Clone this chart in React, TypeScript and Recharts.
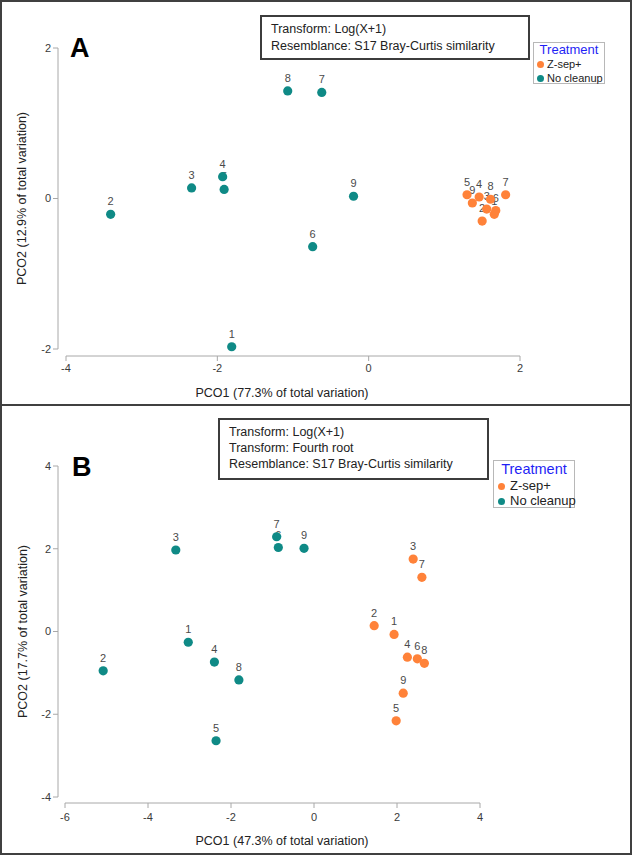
import React from 'react';
import { ScatterChart, Scatter, XAxis, YAxis } from 'recharts';

const FONT = '"Liberation Sans", Arial, Helvetica, sans-serif';
const TEAL = '#0F8A86';
const ORANGE = '#FF8239';
const AXIS_GREY = '#A8A8A8';
const TICK_TEXT = '#3A3A3A';
const LABEL_TEXT = '#4A4A4A';

const sampleIds = ['1', '2', '3', '4', '5', '6', '7', '8', '9'];
const groupNames = ['Z-sep+', 'No cleanup'];

// Panel A: Log(X+1), S17 Bray-Curtis
const aZsepPco1 = [1.66, 1.5, 1.56, 1.46, 1.3, 1.68, 1.81, 1.61, 1.37];
const aZsepPco2 = [-0.21, -0.3, -0.14, 0.02, 0.05, -0.16, 0.05, -0.01, -0.06];
const aNonePco1 = [-1.81, -3.41, -2.34, -1.93, -1.91, -0.74, -0.62, -1.07, -0.2];
const aNonePco2 = [-1.97, -0.21, 0.14, 0.29, 0.12, -0.64, 1.41, 1.43, 0.03];
const aXTicks = [-4, -2, 0, 2];
const aYTicks = [-2, 0, 2];
const aInfo = ['Transform: Log(X+1)', 'Resemblance: S17 Bray-Curtis similarity'];

// Panel B: Log(X+1) then fourth root, S17 Bray-Curtis
const bZsepPco1 = [1.93, 1.45, 2.39, 2.25, 1.98, 2.49, 2.6, 2.66, 2.15];
const bZsepPco2 = [-0.07, 0.14, 1.75, -0.62, -2.16, -0.66, 1.31, -0.77, -1.49];
const bNonePco1 = [-3.03, -5.08, -3.33, -2.4, -2.36, -0.86, -0.9, -1.81, -0.24];
const bNonePco2 = [-0.26, -0.95, 1.97, -0.74, -2.64, 2.03, 2.29, -1.17, 2.01];
const bXTicks = [-6, -4, -2, 0, 2, 4];
const bYTicks = [-4, -2, 0, 2, 4];
const bInfo = ['Transform: Log(X+1)', 'Transform: Fourth root', 'Resemblance: S17 Bray-Curtis similarity'];

type Pt = { x: number; y: number; id: string };
const toPoints = (xs: number[], ys: number[]): Pt[] =>
  xs.map((x, i) => ({ x, y: ys[i], id: sampleIds[i] }));

const SampleId = (props: any) => (
  <text
    x={props.cx}
    y={props.cy - 9}
    textAnchor="middle"
    fontSize={11}
    fontFamily={FONT}
    fill={LABEL_TEXT}
  >
    {props.payload.id}
  </text>
);

const dotShape = (color: string) => (props: any) => (
  <circle cx={props.cx} cy={props.cy} r={4.6} fill={color} />
);

type PanelProps = {
  top: number;
  height: number;
  marginTop: number;
  marginRight: number;
  xAxisHeight: number;
  padLeft: number;
  padBottom: number;
  xDomain: [number, number];
  yDomain: [number, number];
  xTicks: number[];
  yTicks: number[];
  xTickGap: number;
  zsep: Pt[];
  none: Pt[];
  xTitle: string;
  yTitle: string;
  xTitleCenter: number;
  xTitleDrop: number;
  yTitleX: number;
  tickFont: number;
};

function OrdinationPanel(p: PanelProps) {
  const plotHeight = p.height - p.marginTop - p.xAxisHeight;
  const tickStyle = { fill: TICK_TEXT, fontSize: p.tickFont, fontFamily: FONT };
  return (
    <div style={{ position: 'absolute', left: 0, top: p.top }}>
      <ScatterChart
        width={632}
        height={p.height}
        margin={{ top: p.marginTop, right: p.marginRight, bottom: 0, left: 18 }}
      >
        <XAxis
          type="number"
          dataKey="x"
          domain={p.xDomain}
          ticks={p.xTicks}
          padding={{ left: p.padLeft, right: 0 }}
          height={p.xAxisHeight}
          axisLine={{ stroke: AXIS_GREY, strokeDasharray: `0 ${p.padLeft} 4000` }}
          tickLine={{ stroke: AXIS_GREY }}
          tickSize={5}
          tickMargin={p.xTickGap}
          tick={tickStyle}
          label={(lp: any) => {
            const vb = lp.viewBox || {};
            return (
              <text
                x={p.xTitleCenter}
                y={vb.y + p.xTitleDrop}
                textAnchor="middle"
                fontSize={12.5}
                fontFamily={FONT}
                fill="#222"
              >
                {p.xTitle}
              </text>
            );
          }}
        />
        <YAxis
          type="number"
          dataKey="y"
          domain={p.yDomain}
          ticks={p.yTicks}
          width={40}
          padding={{ top: 0, bottom: p.padBottom }}
          axisLine={{ stroke: AXIS_GREY, strokeDasharray: `${plotHeight - p.padBottom} 4000` }}
          tickLine={{ stroke: AXIS_GREY }}
          tickSize={5}
          tickMargin={2}
          tick={tickStyle}
          label={(lp: any) => {
            const vb = lp.viewBox || {};
            const cy = vb.y + (vb.height - p.padBottom) / 2;
            return (
              <text
                x={p.yTitleX}
                y={cy}
                transform={`rotate(-90, ${p.yTitleX}, ${cy})`}
                textAnchor="middle"
                dominantBaseline="central"
                fontSize={12.5}
                fontFamily={FONT}
                fill="#222"
              >
                {p.yTitle}
              </text>
            );
          }}
        />
        <Scatter name="ids-none" data={p.none} shape={SampleId} isAnimationActive={false} />
        <Scatter name="ids-zsep" data={p.zsep} shape={SampleId} isAnimationActive={false} />
        <Scatter name={groupNames[1]} data={p.none} shape={dotShape(TEAL)} isAnimationActive={false} />
        <Scatter name={groupNames[0]} data={p.zsep} shape={dotShape(ORANGE)} isAnimationActive={false} />
      </ScatterChart>
    </div>
  );
}

type BoxProps = {
  left: number;
  top: number;
  width: number;
  height: number;
  lines: string[];
  lineHeight: number;
  padTop: number;
};

function InfoBox(b: BoxProps) {
  return (
    <div
      style={{
        position: 'absolute',
        left: b.left,
        top: b.top,
        width: b.width,
        height: b.height,
        boxSizing: 'border-box',
        border: '2px solid #3C3C3C',
        background: '#fff',
        paddingLeft: 9,
        paddingTop: b.padTop,
        fontFamily: FONT,
        fontSize: 12.5,
        lineHeight: `${b.lineHeight}px`,
        color: '#222',
        whiteSpace: 'nowrap',
      }}
    >
      {b.lines.map((t) => (
        <div key={t}>{t}</div>
      ))}
    </div>
  );
}

type LegendProps = {
  left: number;
  top: number;
  width: number;
  height: number;
  titleSize: number;
  itemSize: number;
  titleY: number;
  itemY: number[];
  dotX: number;
  textX: number;
};

function TreatmentLegend(l: LegendProps) {
  const colors = [ORANGE, TEAL];
  return (
    <div
      style={{
        position: 'absolute',
        left: l.left,
        top: l.top,
        width: l.width,
        height: l.height,
        boxSizing: 'border-box',
        border: '1px solid #B8B8B8',
        background: '#fff',
        fontFamily: FONT,
      }}
    >
      <div
        style={{
          position: 'absolute',
          left: 0,
          width: l.width - 2,
          top: l.titleY - 10,
          height: 20,
          lineHeight: '20px',
          textAlign: 'center',
          fontSize: l.titleSize,
          color: '#1F1FF5',
        }}
      >
        Treatment
      </div>
      {groupNames.map((g, i) => (
        <React.Fragment key={g}>
          <div
            style={{
              position: 'absolute',
              left: l.dotX - 3.5,
              top: l.itemY[i] - 3.5,
              width: 7,
              height: 7,
              borderRadius: '50%',
              background: colors[i],
            }}
          />
          <div
            style={{
              position: 'absolute',
              left: l.textX,
              top: l.itemY[i] - 9,
              height: 18,
              lineHeight: '18px',
              fontSize: l.itemSize,
              color: '#222',
              whiteSpace: 'nowrap',
            }}
          >
            {g}
          </div>
        </React.Fragment>
      ))}
    </div>
  );
}

const PanelLetter = ({ left, top, text }: { left: number; top: number; text: string }) => (
  <div
    style={{
      position: 'absolute',
      left,
      top,
      fontFamily: FONT,
      fontWeight: 'bold',
      fontSize: 27,
      lineHeight: '30px',
      color: '#000',
    }}
  >
    {text}
  </div>
);

export default function App() {
  return (
    <div
      style={{
        position: 'absolute',
        left: 0,
        top: 0,
        width: 632,
        height: 856,
        background: '#fff',
        overflow: 'hidden',
      }}
    >
      <OrdinationPanel
        top={0}
        height={405}
        marginTop={48}
        marginRight={112}
        xAxisHeight={49}
        padLeft={8}
        padBottom={7}
        xDomain={[-4, 2]}
        yDomain={[-2, 2]}
        xTicks={aXTicks}
        yTicks={aYTicks}
        xTickGap={3}
        zsep={toPoints(aZsepPco1, aZsepPco2)}
        none={toPoints(aNonePco1, aNonePco2)}
        xTitle="PCO1 (77.3% of total variation)"
        yTitle="PCO2 (12.9% of total variation)"
        xTitleCenter={282}
        xTitleDrop={41}
        yTitleX={22}
        tickFont={11}
      />
      <OrdinationPanel
        top={405}
        height={451}
        marginTop={61}
        marginRight={152}
        xAxisHeight={53}
        padLeft={7}
        padBottom={6}
        xDomain={[-6, 4]}
        yDomain={[-4, 4]}
        xTicks={bXTicks}
        yTicks={bYTicks}
        xTickGap={5}
        zsep={toPoints(bZsepPco1, bZsepPco2)}
        none={toPoints(bNonePco1, bNonePco2)}
        xTitle="PCO1 (47.3% of total variation)"
        yTitle="PCO2 (17.7% of total variation)"
        xTitleCenter={282}
        xTitleDrop={41.5}
        yTitleX={23}
        tickFont={11}
      />

      <PanelLetter left={70} top={33} text="A" />
      <InfoBox left={260} top={15} width={270} height={45} lines={aInfo} lineHeight={17} padTop={4} />
      <TreatmentLegend
        left={533}
        top={42}
        width={72}
        height={42}
        titleSize={13}
        itemSize={11}
        titleY={7}
        itemY={[21, 35]}
        dotX={6}
        textX={13}
      />

      <PanelLetter left={72} top={452} text="B" />
      <InfoBox left={218} top={418} width={271} height={62} lines={bInfo} lineHeight={16} padTop={4} />
      <TreatmentLegend
        left={493}
        top={460}
        width={82}
        height={48}
        titleSize={14.5}
        itemSize={13}
        titleY={8}
        itemY={[25, 40]}
        dotX={7}
        textX={16}
      />

      {/* frame and panel divider */}
      <div
        style={{
          position: 'absolute',
          left: 0,
          top: 0,
          width: 632,
          height: 855,
          boxSizing: 'border-box',
          border: '2px solid #404040',
          pointerEvents: 'none',
        }}
      />
      <div
        style={{
          position: 'absolute',
          left: 0,
          top: 404,
          width: 632,
          height: 2,
          background: '#404040',
        }}
      />
    </div>
  );
}
